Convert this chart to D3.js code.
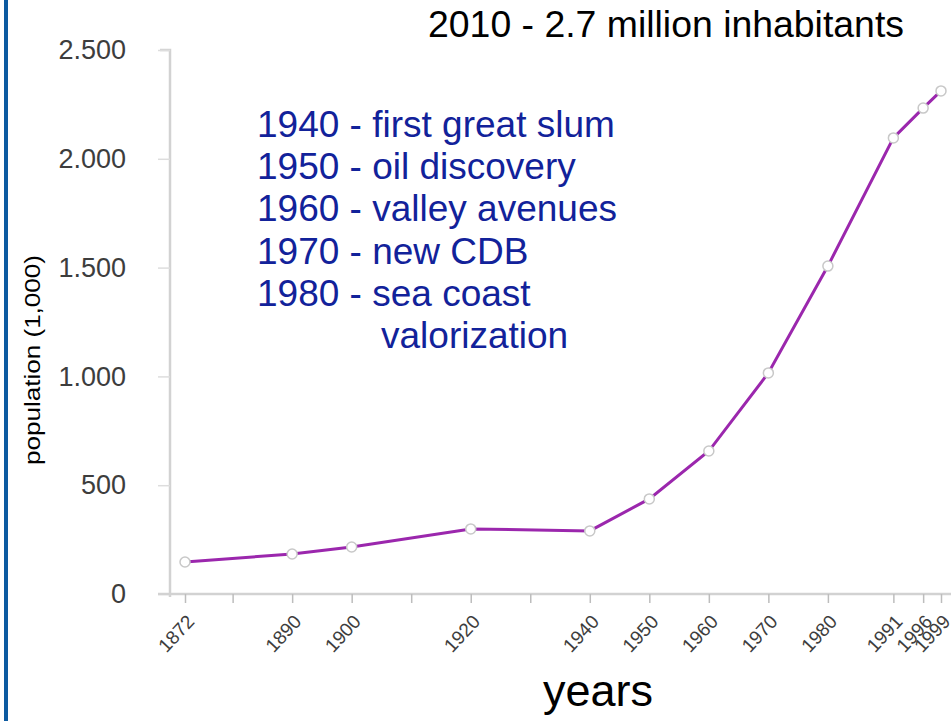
<!DOCTYPE html>
<html>
<head>
<meta charset="utf-8">
<script src="https://cdn.jsdelivr.net/npm/d3@7"></script>
<style>
  body { margin: 0; background: #fff; }
  svg { display: block; font-family: "Liberation Sans", Arial, sans-serif; }
</style>
</head>
<body>
<svg id="chart" width="951" height="721"></svg>
<script>
// population of the city (thousands) by census year
const years = [1872, 1890, 1900, 1920, 1940, 1950, 1960, 1970, 1980, 1991, 1996, 1999];
const population = [147, 184, 216, 299, 290, 437, 657, 1016, 1507, 2096, 2233, 2312];
const tickYears = [1872, 1880, 1890, 1900, 1910, 1920, 1930, 1940, 1950, 1960, 1970, 1980, 1991, 1996, 1999];
const yTicks = [0, 500, 1000, 1500, 2000, 2500];
const notes = [
    "1940 - first great slum",
    "1950 - oil discovery",
    "1960 - valley avenues",
    "1970 - new CDB",
    "1980 - sea coast",
    "valorization"
];
const title = "2010 - 2.7 million inhabitants";

const width = 951;
const height = 721;
const svg = d3.select("#chart");

const x = d3.scaleLinear().domain([1872, 1999]).range([185, 941]);
const y = d3.scaleLinear().domain([0, 2500]).range([594, 50]);

// thousands with a dot, like the original
const fmt = d3.formatLocale({ decimal: ",", thousands: ".", grouping: [3], currency: ["", ""] }).format(",");

// left frame stripe
svg.append("rect")
    .attr("x", 4).attr("y", 0)
    .attr("width", 4).attr("height", height)
    .attr("fill", "#0d5aa0");

// y axis
const yAxis = svg.append("g")
    .attr("transform", "translate(170,0)")
    .call(d3.axisLeft(y).tickValues(yTicks).tickFormat(fmt).tickSize(12).tickPadding(32));
yAxis.select(".domain")
    .attr("d", `M${-10},${y(2500)}H0V${y(0) + 3}`)
    .attr("stroke", "#d2d2d2").attr("stroke-width", 2.5).attr("fill", "none");
yAxis.selectAll(".tick line").attr("stroke", "#dddddd").attr("stroke-width", 1.5);
yAxis.selectAll(".tick text")
    .attr("fill", "#3d3d3d")
    .attr("font-size", 27);

// x axis
const xAxis = svg.append("g")
    .attr("transform", `translate(0,${y(0)})`)
    .call(d3.axisBottom(x).tickValues(tickYears).tickSize(9).tickFormat(d => years.includes(d) ? d : ""));
xAxis.select(".domain")
    .attr("d", `M158,0H${width}`)
    .attr("stroke", "#d2d2d2").attr("stroke-width", 2.5);
xAxis.selectAll(".tick line").attr("stroke", "#bdbdbd").attr("stroke-width", 1.5);
xAxis.selectAll(".tick text")
    .attr("fill", "#3d3d3d")
    .attr("font-size", 19)
    .attr("text-anchor", "end")
    .attr("y", 0)
    .attr("dy", "0.35em")
    .attr("transform", "translate(5,24) rotate(-47)");

// the line
const line = d3.line()
    .x((d, i) => x(years[i]))
    .y(d => y(d));

svg.append("path")
    .datum(population)
    .attr("d", line)
    .attr("fill", "none")
    .attr("stroke", "#9b27ad")
    .attr("stroke-width", 3);

svg.append("g")
    .selectAll("circle")
    .data(population)
    .join("circle")
    .attr("cx", (d, i) => x(years[i]))
    .attr("cy", d => y(d))
    .attr("r", 5)
    .attr("fill", "#fff")
    .attr("stroke", "#c8c8c8")
    .attr("stroke-width", 1.5);

// axis titles
svg.append("text")
    .attr("transform", "translate(40,360) rotate(-90)")
    .attr("text-anchor", "middle")
    .attr("font-size", 22)
    .attr("textLength", 210)
    .attr("lengthAdjust", "spacingAndGlyphs")
    .attr("fill", "#000")
    .text("population (1,000)");

svg.append("text")
    .attr("x", 598).attr("y", 706)
    .attr("text-anchor", "middle")
    .attr("font-size", 45)
    .attr("fill", "#000")
    .text("years");

svg.append("text")
    .attr("x", 428).attr("y", 37)
    .attr("font-size", 37.4)
    .attr("fill", "#000")
    .text(title);

// timeline notes
svg.append("g")
    .selectAll("text")
    .data(notes)
    .join("text")
    .attr("x", (d, i) => i === notes.length - 1 ? 381 : 257)
    .attr("y", (d, i) => 137 + i * 42.2)
    .attr("font-size", 37)
    .attr("fill", "#12229a")
    .text(d => d);
</script>
</body>
</html>
